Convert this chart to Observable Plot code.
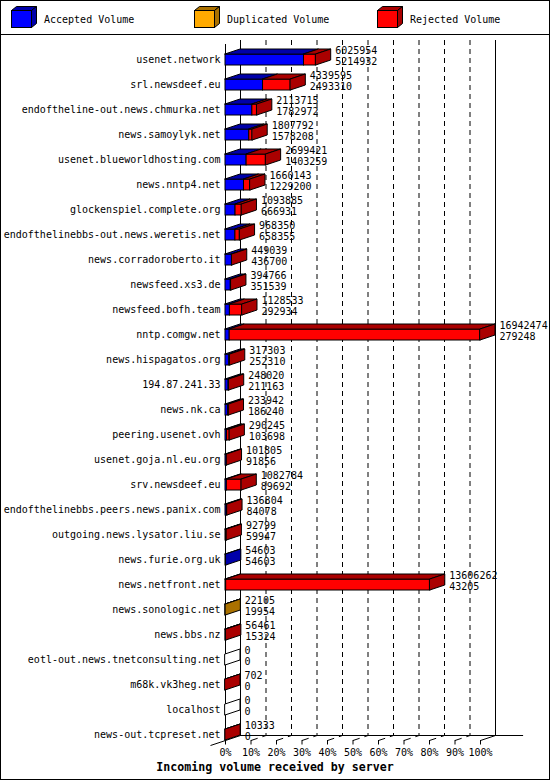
<!DOCTYPE html>
<html><head><meta charset="utf-8">
<script src="https://cdn.jsdelivr.net/npm/d3@7"></script>
<script src="https://cdn.jsdelivr.net/npm/@observablehq/plot@0.6"></script>
<style>
html,body{margin:0;padding:0;background:#fff;}
#frame{width:550px;height:780px;box-sizing:border-box;border:1px solid #000;font-family:"DejaVu Sans Mono",monospace;font-size:10px;position:relative;overflow:hidden;background:#fff;color:#000;}
#legend{height:33px;border-bottom:1px solid #000;position:relative;}
.item{position:absolute;top:0;height:33px;width:180px;}
.item svg{position:absolute;left:0;top:0;}
.item span{position:absolute;left:33px;top:13px;line-height:12px;white-space:nowrap;}
#chart svg{display:block;}
#caption{height:18px;text-align:center;font-weight:bold;font-size:11.6px;line-height:12px;white-space:nowrap;}
</style>
</head><body>
<div id="frame">
  <div id="legend"></div>
  <div id="chart"></div>
  <div id="caption">Incoming volume received by server</div>
</div>
<script>
// ---- data ----
const servers = [
  "usenet.network","srl.newsdeef.eu","endoftheline-out.news.chmurka.net","news.samoylyk.net",
  "usenet.blueworldhosting.com","news.nntp4.net","glockenspiel.complete.org",
  "endofthelinebbs-out.news.weretis.net","news.corradoroberto.it","newsfeed.xs3.de",
  "newsfeed.bofh.team","nntp.comgw.net","news.hispagatos.org","194.87.241.33","news.nk.ca",
  "peering.usenet.ovh","usenet.goja.nl.eu.org","srv.newsdeef.eu",
  "endofthelinebbs.peers.news.panix.com","outgoing.news.lysator.liu.se","news.furie.org.uk",
  "news.netfront.net","news.sonologic.net","news.bbs.nz","eotl-out.news.tnetconsulting.net",
  "m68k.vk3heg.net","localhost","news-out.tcpreset.net"
];
const totalVolume = [
  6025954,4339595,2113715,1807792,2699421,1660143,1093885,968350,449039,394766,
  1128533,16942474,317303,248020,233942,290245,101805,1082784,136804,92799,
  54603,13606262,22105,56461,0,702,0,10333
];
const acceptedVolume = [
  5214932,2493310,1782972,1578208,1403259,1229200,666931,658355,436700,351539,
  292934,279248,252310,211163,186240,103698,91856,89692,84078,59947,
  54603,43205,19954,15324,0,0,0,0
];
const duplicatedVolume = [
  0,0,0,0,0,0,0,0,0,0,
  0,0,0,0,0,0,0,0,0,0,
  0,0,2151,0,0,0,0,0
];
const rejectedVolume = totalVolume.map((t, i) => t - acceptedVolume[i] - duplicatedVolume[i]);
const seriesNames = ["Accepted Volume","Duplicated Volume","Rejected Volume"];
const frontColors = ["#0000ff","#ffaa00","#ff0000"];
const darkColors = ["#0000aa","#aa7100","#aa0000"];
const pctTicks = [0,10,20,30,40,50,60,70,80,90,100];

// ---- legend ----
const legend = document.getElementById("legend");
seriesNames.forEach((name, k) => {
  const it = document.createElement("div");
  it.className = "item";
  it.style.left = (10 + 183 * k) + "px";
  it.innerHTML = `<svg width="32" height="33">
    <polygon points="0.5,9.5 5.5,5.5 25.5,5.5 20.5,9.5" fill="${darkColors[k]}" stroke="#000"/>
    <polygon points="20.5,9.5 25.5,5.5 25.5,22.5 20.5,26.5" fill="${darkColors[k]}" stroke="#000"/>
    <rect x="0.5" y="9.5" width="20" height="17" fill="${frontColors[k]}" stroke="#000"/>
  </svg><span>${name}</span>`;
  legend.appendChild(it);
});

// ---- geometry helpers (in scale units) ----
const maxTotal = d3.max(totalVolume);
const DX = 15 / 2.55;   // depth offset in % units
const DY = 0.2;         // depth offset in row units
const HALF = 0.22;
const backTop = -0.78, frontTop = -0.62, backBottom = 27.02, floorFront = 27.22;

const rows = [], fronts = [], tops = [], sides = [];
servers.forEach((name, i) => {
  const vals = [acceptedVolume[i], duplicatedVolume[i], rejectedVolume[i]];
  let cum = 0, last = -1;
  vals.forEach((v, k) => {
    if (v > 0) {
      const x1 = cum / maxTotal * 100, x2 = (cum + v) / maxTotal * 100;
      fronts.push({x1, x2, y1: i - HALF, y2: i + HALF, fill: frontColors[k]});
      const id = i + "-" + k;
      tops.push({id, y: i - HALF, x1, x2, fill: darkColors[k]});
      tops.push({id, y: i - HALF - DY, x1: x1 + DX, x2: x2 + DX, fill: darkColors[k]});
      cum += v; last = k;
    }
  });
  const end = cum / maxTotal * 100;
  const sfill = last >= 0 ? darkColors[last] : "#ffffff";
  sides.push({id: i, x: end, y1: i - HALF, y2: i + HALF, fill: sfill});
  sides.push({id: i, x: end + DX, y1: i - HALF - DY, y2: i + HALF - DY, fill: sfill});
  rows.push({i, name, end, total: totalVolume[i], acc: acceptedVolume[i]});
});

const chart = Plot.plot({
  width: 548, height: 726,
  marginLeft: 224, marginRight: 69, marginTop: 24.5, marginBottom: 26.5,
  x: {domain: [0, 100], axis: null},
  y: {domain: [0, servers.length - 1], reverse: true, axis: null},
  color: {type: "identity"},
  style: {fontFamily: "DejaVu Sans Mono", fontSize: "10px", background: "white", color: "black", overflow: "visible"},
  marks: [
    // back wall gridlines
    Plot.ruleX(pctTicks.filter(p => p > 0 && p < 100), {x: d => d + DX, y1: () => backTop, y2: () => backBottom, stroke: "black", strokeDasharray: "5,4"}),
    Plot.ruleX([0, 100], {x: d => d + DX, y1: () => backTop, y2: () => backBottom, stroke: "black"}),
    Plot.ruleX([0], {x: d => d, y1: () => frontTop, y2: () => floorFront, stroke: "black"}),
    // floor
    Plot.ruleY([backBottom], {y: d => d, x1: () => DX, x2: () => 116.9, stroke: "black"}),
    Plot.link([0], {x1: () => DX, y1: () => backBottom, x2: () => -DX, y2: () => floorFront + DY, stroke: "black"}),
    Plot.link([100], {x1: d => d, y1: () => floorFront, x2: d => d + DX, y2: () => backBottom, stroke: "black"}),
    Plot.link(pctTicks.filter(p => p > 0 && p < 100), {x1: d => d, y1: () => floorFront, x2: d => d + DX, y2: () => backBottom, stroke: "black", strokeDasharray: "7,5,4"}),
    Plot.ruleX(pctTicks, {x: d => d, y1: () => floorFront, y2: () => floorFront + 0.18, stroke: "black"}),
    Plot.text(pctTicks, {x: d => d, y: () => floorFront, text: d => d + "%", dy: 12}),
    // bars
    Plot.rect(fronts, {x1: "x1", x2: "x2", y1: "y1", y2: "y2", fill: "fill", stroke: "black"}),
    Plot.areaX(tops, {y: "y", x1: "x1", x2: "x2", z: "id", fill: "fill", stroke: "black"}),
    Plot.areaY(sides, {x: "x", y1: "y1", y2: "y2", z: "id", fill: "fill", stroke: "black"}),
    // labels
    Plot.text(rows, {x: () => 0, y: "i", text: "name", textAnchor: "end", dx: -5}),
    Plot.text(rows, {x: d => d.end + DX, y: d => d.i - 0.16, text: d => `${d.total}\n${d.acc}`, textAnchor: "start", dx: 4, lineHeight: 1.1})
  ]
});
document.getElementById("chart").appendChild(chart);
</script>
</body></html>
